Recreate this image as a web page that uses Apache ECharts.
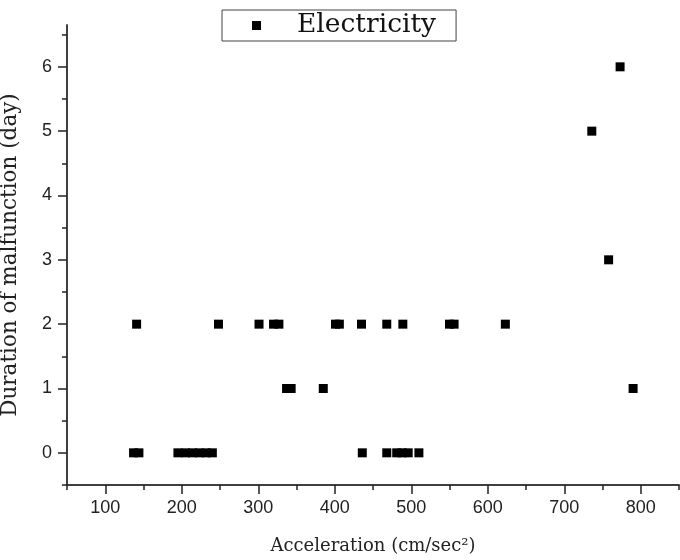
<!DOCTYPE html>
<html>
<head>
<meta charset="utf-8">
<title>Electricity</title>
<script src="https://cdn.jsdelivr.net/npm/echarts@6/dist/echarts.min.js"></script>
<style>
  html, body { margin: 0; padding: 0; background: #fff; }
  #chart { width: 680px; height: 560px; }
</style>
</head>
<body>
<div id="chart"></div>
<script>
// data
const accel = [
  141, 248, 301, 320, 327, 401, 406, 435, 468, 489, 550, 556, 623,
  337, 343, 385, 790,
  137, 144, 195, 205, 214, 223, 232, 240, 436, 468, 481, 488, 496, 510,
  758, 736, 773
];
const days = [
  2, 2, 2, 2, 2, 2, 2, 2, 2, 2, 2, 2, 2,
  1, 1, 1, 1,
  0, 0, 0, 0, 0, 0, 0, 0, 0, 0, 0, 0, 0, 0,
  3, 5, 6
];

const xMajor = [100, 200, 300, 400, 500, 600, 700, 800];
const xMinor = [50, 150, 250, 350, 450, 550, 650, 750, 850];
const yMajor = [0, 1, 2, 3, 4, 5, 6];
const yMinor = [-0.5, 0.5, 1.5, 2.5, 3.5, 4.5, 5.5, 6.5];

const points = accel.map((x, i) => [x, days[i]]);

const axisColor = '#333';
const tickFont = "'Liberation Sans', Arial, sans-serif";
const serif = "'DejaVu Serif', serif";
const lineStyle = { color: axisColor, width: 1.5 };

const chart = echarts.init(document.getElementById('chart'));

const option = {
  animation: false,
  backgroundColor: '#fff',
  grid: { left: 67, right: 1, top: 25, bottom: 75, containLabel: false, outerBoundsMode: 'none' },
  legend: {
    left: 222,
    top: 10,
    data: ['Electricity'],
    icon: 'rect',
    itemWidth: 9,
    itemHeight: 9,
    padding: [2, 20, 2, 30],
    borderColor: '#444',
    borderWidth: 1,
    formatter: name => '{t|' + name + '}',
    textStyle: {
      rich: {
        t: {
          fontFamily: serif,
          fontSize: 26.5,
          lineHeight: 30,
          color: '#111',
          padding: [0, 0, 0, 31]
        }
      }
    }
  },
  xAxis: [
    {
      type: 'value',
      min: 50,
      max: 850,
      splitLine: { show: false },
      axisLine: { show: true, onZero: false, lineStyle: lineStyle },
      axisTick: { show: true, customValues: xMajor, length: 9, lineStyle: { color: '#222', width: 1.5 } },
      axisLabel: {
        customValues: xMajor,
        margin: 7,
        padding: [7, 0, 0, 0],
        fontFamily: tickFont,
        fontSize: 18,
        color: '#222'
      },
      name: 'Acceleration (cm/sec²)',
      nameLocation: 'middle',
      nameGap: 52,
      nameTextStyle: { fontFamily: serif, fontSize: 18, color: '#222' }
    },
    {
      type: 'value',
      min: 50,
      max: 850,
      position: 'bottom',
      splitLine: { show: false },
      axisLine: { show: true, onZero: false, lineStyle: lineStyle },
      axisTick: { show: true, customValues: xMinor, length: 5, lineStyle: { color: '#222', width: 1.5 } },
      axisLabel: { show: false }
    }
  ],
  yAxis: [
    {
      type: 'value',
      min: -0.5,
      max: 6.65,
      splitLine: { show: false },
      axisLine: { show: true, onZero: false, lineStyle: lineStyle },
      axisTick: { show: true, customValues: yMajor, length: 9, lineStyle: { color: '#222', width: 1.5 } },
      axisLabel: {
        customValues: yMajor,
        margin: 7,
        padding: [0, 8, 0, 0],
        fontFamily: tickFont,
        fontSize: 18,
        color: '#222'
      },
      name: 'Duration of malfunction (day)',
      nameLocation: 'middle',
      nameGap: 46,
      nameTextStyle: { fontFamily: serif, fontSize: 21.5, color: '#222' }
    },
    {
      type: 'value',
      min: -0.5,
      max: 6.65,
      position: 'left',
      splitLine: { show: false },
      axisLine: { show: true, onZero: false, lineStyle: lineStyle },
      axisTick: { show: true, customValues: yMinor, length: 5, lineStyle: { color: '#222', width: 1.5 } },
      axisLabel: { show: false }
    }
  ],
  series: [
    {
      name: 'Electricity',
      type: 'scatter',
      symbol: 'rect',
      symbolSize: 9,
      itemStyle: { color: '#000', opacity: 1 },
      data: points
    }
  ]
};

chart.setOption(option);
</script>
</body>
</html>
